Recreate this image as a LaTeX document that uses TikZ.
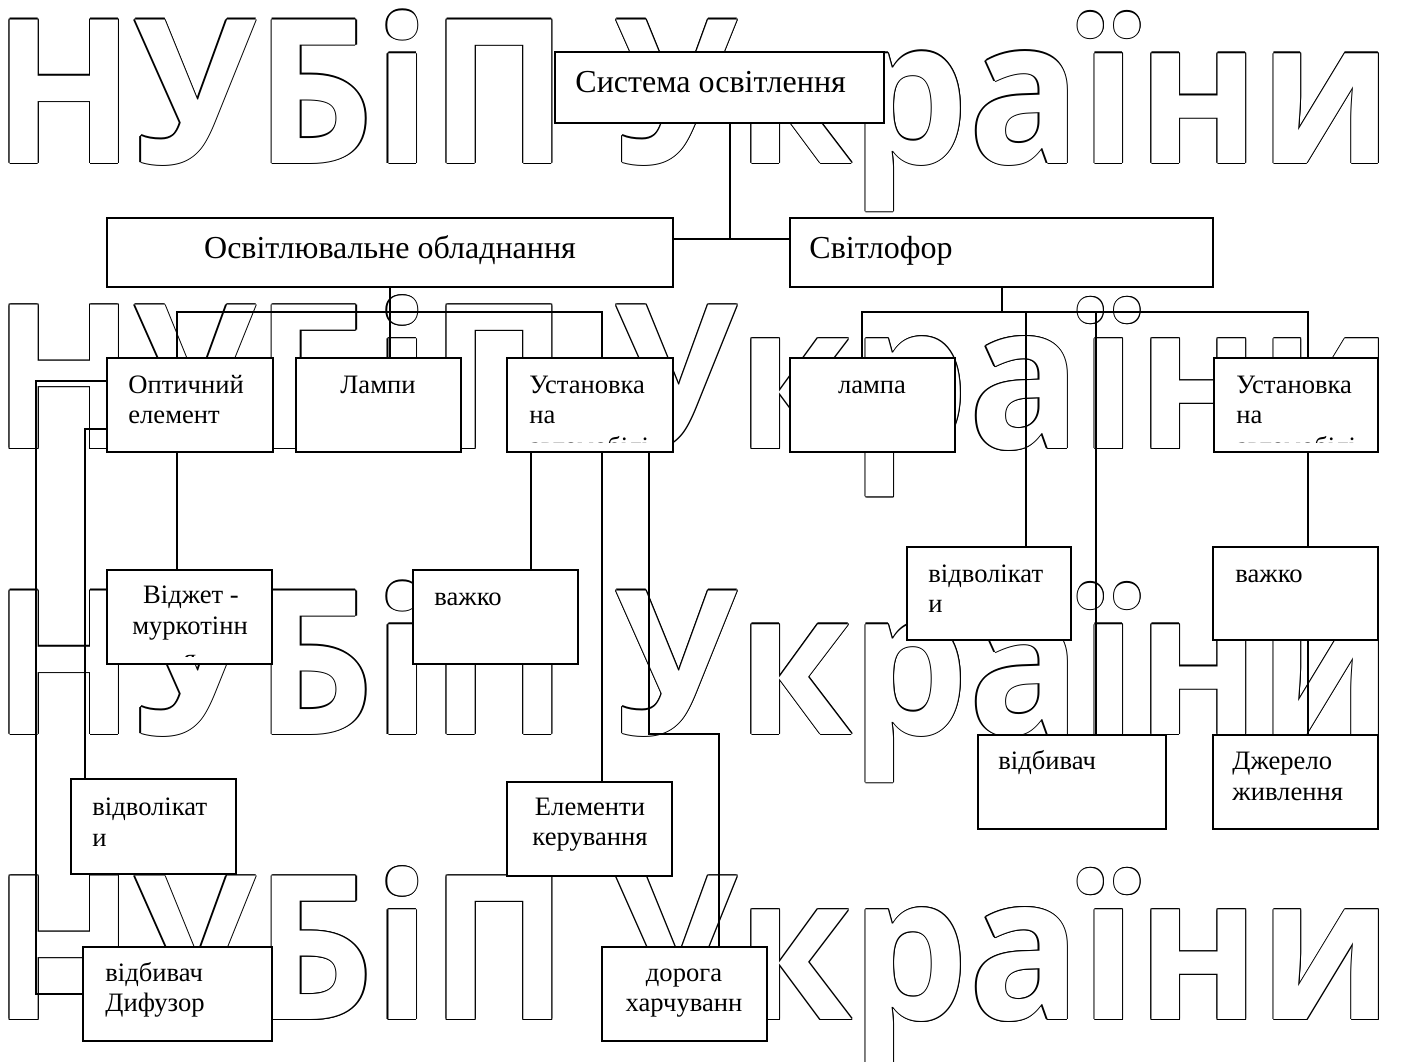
\documentclass[tikz,border=0pt]{standalone}
\usepackage{fontspec}
\usepackage{graphicx}
\setmainfont{Liberation Serif}
\newfontfamily\boxfont{Liberation Serif}
\newfontfamily\wmfont{Open Sans}
\usetikzlibrary{fit}
\newcommand{\wmstr}{НУБіП України}
\newcommand{\wmcopy}[2]{\rlap{\hskip#1\raisebox{#2}{\wmstr}}}
\newcommand{\wmtext}{\resizebox{700pt}{\height}{\fontsize{100.5pt}{110pt}\wmfont\bfseries
  \wmcopy{0.6pt}{0pt}\wmcopy{-0.6pt}{0pt}\wmcopy{0pt}{0.6pt}\wmcopy{0pt}{-0.6pt}%
  \wmcopy{0.42pt}{0.42pt}\wmcopy{-0.42pt}{0.42pt}\wmcopy{0.42pt}{-0.42pt}\wmcopy{-0.42pt}{-0.42pt}%
  {\color{white}\wmstr}}}
\begin{document}
\begin{tikzpicture}[x=0.5pt,y=-0.5pt,
  bx/.style={draw, fill=white, line width=1pt, inner sep=0pt},
  tl/.style={inner sep=0pt, anchor=base west, font=\boxfont\fontsize{13.3pt}{15pt}\selectfont},
  tc/.style={inner sep=0pt, anchor=base, font=\boxfont\fontsize{13.3pt}{15pt}\selectfont},
  bigl/.style={inner sep=0pt, anchor=base west, font=\boxfont\fontsize{16pt}{18pt}\selectfont},
  bigc/.style={inner sep=0pt, anchor=base, font=\boxfont\fontsize{16pt}{18pt}\selectfont},
  wm/.style={inner sep=0pt, anchor=base west},
  con/.style={line width=1pt}]
\useasboundingbox[fill=white] (0,0) rectangle (1408,1061);
% watermark
\node[wm] (wm1) at (-7,163) {\wmtext};
\node[wm] (wm2) at (-7,448.5) {\wmtext};
\node[wm] (wm3) at (-7,734) {\wmtext};
\node[wm] (wm4) at (-7,1019.5) {\wmtext};
% boxes
\node[bx, fit={(555,52) (884,123)}] (sys) {};
\node[bx, fit={(107,218) (673,287)}] (osv) {};
\node[bx, fit={(790,218) (1213,287)}] (svit) {};
\node[bx, fit={(107,358) (273,452)}] (opt) {};
\node[bx, fit={(296,358) (461,452)}] (lamp) {};
\node[bx, fit={(507,358) (673,452)}] (ust) {};
\node[bx, fit={(790,358) (955,452)}] (lampa) {};
\node[bx, fit={(1214,358) (1378,452)}] (ust2) {};
\node[bx, fit={(107,570) (272,664)}] (vidzh) {};
\node[bx, fit={(413,570) (578,664)}] (vazh1) {};
\node[bx, fit={(907,547) (1071,640)}] (vidv2) {};
\node[bx, fit={(1213,547) (1378,640)}] (vazh2) {};
\node[bx, fit={(978,735) (1166,829)}] (vidb2) {};
\node[bx, fit={(1213,735) (1378,829)}] (dzh) {};
\node[bx, fit={(71,779) (236,874)}] (vidv1) {};
\node[bx, fit={(507,782) (672,876)}] (elem) {};
\node[bx, fit={(83,947) (272,1041)}] (dyf) {};
\node[bx, fit={(602,947) (767,1041)}] (dor) {};
% texts
\node[bigl] at (575,92) {Система освітлення};
\node[bigc] at (390,258) {Освітлювальне обладнання};
\node[bigl] at (809,258) {Світлофор};
\node[tl] at (128,393) {Оптичний};
\node[tl] at (128,423) {елемент};
\node[tc] at (378,393) {Лампи};
\node[tl] at (529,393) {Установка};
\node[tl] at (529,423) {на};
\node[tc] at (872,393) {лампа};
\node[tl] at (1236,393) {Установка};
\node[tl] at (1236,423) {на};
\begin{scope}
\clip (507,358) rectangle (673,442);
\node[tl] at (529,455) {автомобілі};
\end{scope}
\begin{scope}
\clip (1214,358) rectangle (1378,442);
\node[tl] at (1236,455) {автомобілі};
\end{scope}
\node[tc] at (191,603) {Віджет -};
\node[tc] at (190,634) {муркотінн};
\begin{scope}
\clip (107,570) rectangle (272,656);
\node[tc] at (190,667) {я};
\end{scope}
\node[tl] at (434,605) {важко};
\node[tl] at (928,582) {відволікат};
\node[tl] at (928,612) {и};
\node[tl] at (1235,582) {важко};
\node[tl] at (998,769) {відбивач};
\node[tl] at (1232,769) {Джерело};
\node[tl] at (1232,800) {живлення};
\node[tl] at (92,815) {відволікат};
\node[tl] at (92,846) {и};
\node[tc] at (590,815) {Елементи};
\node[tc] at (590,845) {керування};
\node[tl] at (105,981) {відбивач};
\node[tl] at (105,1011) {Дифузор};
\node[tc] at (684,981) {дорога};
\node[tc] at (684,1011) {харчуванн};
% connectors
\coordinate (j0) at (730,239);
\draw[con] (j0 |- sys.south) -- (j0);
\draw[con] (osv.east |- j0) -- (svit.west |- j0);
\coordinate (lb0) at (390,312);
\coordinate (lb1) at (177,312);
\coordinate (lb2) at (602,312);
\draw[con] (lb0 |- osv.south) -- (lb0 |- lamp.north);
\draw[con] (lb1 |- opt.north) -- (lb1) -- (lb2) -- (lb2 |- ust.north);
\coordinate (rb0) at (1002,312);
\coordinate (rb1) at (862,312);
\coordinate (rb2) at (1026,312);
\coordinate (rb3) at (1096,312);
\coordinate (rb4) at (1308,312);
\draw[con] (rb0 |- svit.south) -- (rb0);
\draw[con] (rb1 |- lampa.north) -- (rb1) -- (rb4) -- (rb4 |- ust2.north);
\draw[con] (rb2) -- (rb2 |- vidv2.north);
\draw[con] (rb3) -- (rb3 |- vidb2.north);
\draw[con] (rb4 |- ust2.south) -- (rb4 |- vazh2.north);
\draw[con] (rb4 |- vazh2.south) -- (rb4 |- dzh.north);
\coordinate (c1) at (36,381);
\coordinate (c2) at (85,429);
\draw[con] (opt.west |- c1) -- (c1) -- (c1 |- dyf.west) -- (dyf.west);
\draw[con] (opt.west |- c2) -- (c2) -- (c2 |- vidv1.north);
\draw[con] (lb1 |- opt.south) -- (lb1 |- vidzh.north);
\coordinate (u1) at (531,500);
\draw[con] (u1 |- ust.south) -- (u1 |- vazh1.north);
\draw[con] (lb2 |- ust.south) -- (lb2 |- elem.north);
\coordinate (u3) at (649,734);
\coordinate (u4) at (719,734);
\draw[con] (u3 |- ust.south) -- (u3) -- (u4) -- (u4 |- dor.north);
\end{tikzpicture}
\end{document}
